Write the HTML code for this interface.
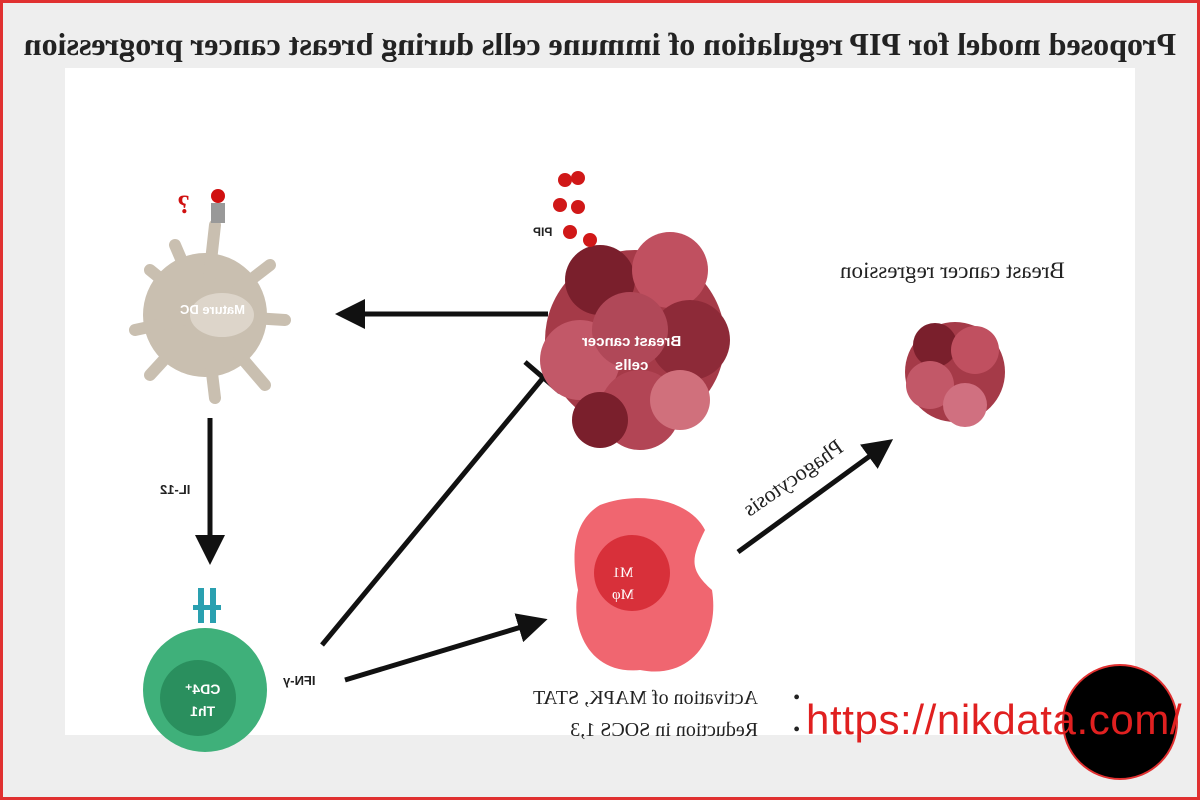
<!DOCTYPE html>
<html><head><meta charset="utf-8"><style>
body{margin:0;width:1200px;height:800px;overflow:hidden;background:#fff}
#f{position:absolute;left:0;top:0;width:1194px;height:794px;border:3px solid #e03030;background:#eeeeee}
#w{position:absolute;left:65px;top:68px;width:1070px;height:667px;background:#fff}
.m{position:absolute;transform:scaleX(-1);white-space:nowrap}
svg{position:absolute;left:0;top:0}
</style></head><body>
<div id="f"></div><div id="w"></div>
<svg width="1200" height="800">
<defs><marker id="a" markerWidth="6" markerHeight="6" refX="4" refY="3" orient="auto"><path d="M0,0 L6,3 L0,6z" fill="#111"/></marker></defs>
<g fill="#c9bfb0">
<circle cx="205" cy="315" r="62"/>
<g stroke="#c9bfb0" stroke-width="12" stroke-linecap="round">
<line x1="205" y1="315" x2="215" y2="225"/><line x1="205" y1="315" x2="135" y2="330"/><line x1="205" y1="315" x2="150" y2="270"/>
<line x1="205" y1="315" x2="270" y2="265"/><line x1="205" y1="315" x2="285" y2="320"/><line x1="205" y1="315" x2="265" y2="385"/>
<line x1="205" y1="315" x2="215" y2="398"/><line x1="205" y1="315" x2="150" y2="375"/><line x1="205" y1="315" x2="175" y2="245"/>
</g></g>
<ellipse cx="222" cy="315" rx="32" ry="22" fill="#ddd5ca"/>
<rect x="211" y="203" width="14" height="20" fill="#999"/>
<circle cx="218" cy="196" r="7" fill="#d01010"/>
<line x1="548" y1="314" x2="345" y2="314" stroke="#111" stroke-width="5" marker-end="url(#a)"/>
<line x1="210" y1="418" x2="210" y2="555" stroke="#111" stroke-width="5" marker-end="url(#a)"/>
<line x1="345" y1="680" x2="538" y2="622" stroke="#111" stroke-width="5" marker-end="url(#a)"/>
<line x1="322" y1="645" x2="543" y2="378" stroke="#111" stroke-width="5"/>
<line x1="525" y1="362" x2="560" y2="392" stroke="#111" stroke-width="5"/>
<line x1="738" y1="552" x2="885" y2="445" stroke="#111" stroke-width="5" marker-end="url(#a)"/>
<circle cx="205" cy="690" r="62" fill="#3fb07a"/>
<circle cx="198" cy="698" r="38" fill="#2a8f5e"/>
<rect x="198" y="588" width="6" height="35" fill="#2aa0b0"/><rect x="210" y="588" width="6" height="35" fill="#2aa0b0"/>
<rect x="193" y="605" width="28" height="5" fill="#2aa0b0"/>
<g>
<circle cx="635" cy="340" r="90" fill="#a53a48"/>
<circle cx="600" cy="280" r="35" fill="#7a1f2c"/><circle cx="670" cy="270" r="38" fill="#c05060"/>
<circle cx="690" cy="340" r="40" fill="#8d2a38"/><circle cx="580" cy="360" r="40" fill="#c25868"/>
<circle cx="640" cy="410" r="40" fill="#b24555"/><circle cx="600" cy="420" r="28" fill="#7a1f2c"/>
<circle cx="680" cy="400" r="30" fill="#d0707c"/><circle cx="630" cy="330" r="38" fill="#b04858"/>
</g>
<g fill="#d01818"><circle cx="565" cy="180" r="7"/><circle cx="578" cy="178" r="7"/><circle cx="560" cy="205" r="7"/><circle cx="578" cy="207" r="7"/><circle cx="570" cy="232" r="7"/><circle cx="590" cy="240" r="7"/></g>
<g>
<circle cx="955" cy="372" r="50" fill="#a53a48"/>
<circle cx="935" cy="345" r="22" fill="#7a1f2c"/><circle cx="975" cy="350" r="24" fill="#c05060"/>
<circle cx="930" cy="385" r="24" fill="#c25868"/><circle cx="965" cy="405" r="22" fill="#d07080"/>
</g>
<path d="M600,505 C640,490 690,500 705,530 C690,560 690,570 712,590 C720,640 690,680 640,670 C590,675 570,630 578,590 C570,550 575,520 600,505Z" fill="#f06670"/>
<circle cx="632" cy="573" r="38" fill="#d8303a"/>
<circle cx="1120" cy="722" r="57" fill="#000" stroke="#e03030" stroke-width="2"/>
</svg>
<div class="m" style="left:0px;top:26px;width:1200px;text-align:center;font:bold 32px 'Liberation Serif',serif;color:#222">Proposed model for PIP regulation of immune cells during breast cancer progression</div>
<div class="m" style="left:180px;top:302px;font:bold 13px 'Liberation Sans',sans-serif;color:#fff">Mature DC</div>
<div class="m" style="left:177px;top:190px;font:bold 26px 'Liberation Serif',serif;color:#d01010">?</div>
<div class="m" style="left:160px;top:482px;font:bold 13px 'Liberation Sans',sans-serif;color:#222">IL-12</div>
<div class="m" style="left:185px;top:678px;font:bold 14px/22px 'Liberation Sans',sans-serif;color:#fff;text-align:center">CD4⁺<br>Th1</div>
<div class="m" style="left:283px;top:673px;font:bold 13px 'Liberation Sans',sans-serif;color:#222">IFN-γ</div>
<div class="m" style="left:533px;top:225px;font:bold 12px 'Liberation Sans',sans-serif;color:#222">PIP</div>
<div class="m" style="left:582px;top:330px;font:bold 15px/24px 'Liberation Sans',sans-serif;color:#fff;text-align:center">Breast cancer<br>cells</div>
<div class="m" style="left:840px;top:258px;font:23px 'Liberation Serif',serif;color:#222">Breast cancer regression</div>
<div class="m" style="left:612px;top:562px;font:15px/22px 'Liberation Serif',serif;color:#fff;text-align:center">M1<br>Mφ</div>
<div style="position:absolute;left:735px;top:465px;transform:rotate(-35deg) scaleX(-1);font:22px 'Liberation Serif',serif;color:#222;white-space:nowrap">Phagocytosis</div>
<div class="m" style="left:533px;top:682px;font:20px/32px 'Liberation Serif',serif;color:#222">•&nbsp;&nbsp;&nbsp;&nbsp;&nbsp;&nbsp;&nbsp;Activation of MAPK, STAT<br>•&nbsp;&nbsp;&nbsp;&nbsp;&nbsp;&nbsp;&nbsp;Reduction in SOCS 1,3</div>
<div style="position:absolute;left:806px;top:696px;font:42px 'Liberation Sans',sans-serif;letter-spacing:0.6px;color:#e02020">https://nikdata.com/</div>
</body></html>
